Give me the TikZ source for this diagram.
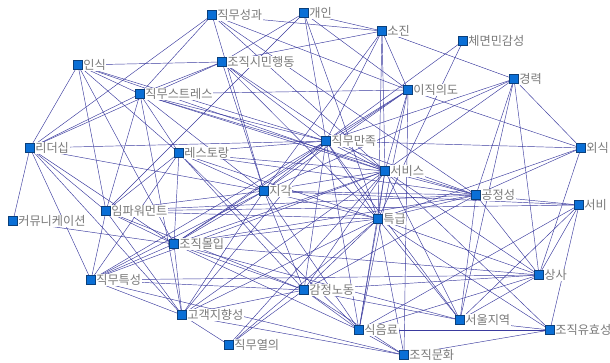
\documentclass[tikz,border=0pt]{standalone}
\usepackage{fontspec}
\newfontfamily\korfont{Noto Sans CJK KR}
\usetikzlibrary{backgrounds}
\definecolor{linkblue}{HTML}{3A3A9E}
\definecolor{nodeblue}{HTML}{0A6FD6}
\definecolor{nodeedge}{HTML}{0B3F7A}
\definecolor{labelgray}{HTML}{7A7A7A}
\tikzset{
    kwnode/.style={draw=nodeedge,fill=nodeblue,line width=0.5pt,
      minimum size=9pt,inner sep=0pt,outer sep=0pt,label distance=0pt},
    kwlabel/.style={fill=white,text=labelgray,inner sep=0.6pt,
      font=\korfont\fontsize{12.2}{13}\selectfont},
    linkline/.style={draw=linkblue,line width=0.45pt}
}

\begin{document}
\begin{tikzpicture}[x=1pt,y=-1pt]
  \useasboundingbox (0,0) rectangle (610,363);
  % keywords
  \foreach \id/\x/\y/\txt in {jms/212/15/직무성과, gi/304/13/개인, sj/382/31/소진,
    cm/463/41/체면민감성, is/78/65/인식, jsh/222/62/조직시민행동, jst/140/94/직무스트레스,
    ij/408/90/이직의도, gr/514/79/경력, ld/30/148/리더십, rs/179/153/레스토랑,
    jmj/326/141/직무만족, os/581/148/외식, sv/385/171/서비스, jg/264/191/지각,
    gj/476/195/공정성, sv2/579/205/서비, ip/106/211/임파워먼트, cu/13/221/커뮤니케이션,
    tg/378/219/특급, jmi/174/244/조직몰입, ss/539/275/상사, jts/91/280/직무특성,
    gn/304/290/감정노동, gg/182/315/고객지향성, sw/460/320/서울지역, sy/359/330/식음료,
    jy/550/330/조직유효성, jy2/229/345/직무열의, jmh/404/355/조직문화}{
    \node[kwnode,label={[kwlabel]right:\txt}] (\id) at (\x,\y) {};
  }
  % links
  \begin{scope}[on background layer]
  \foreach \a/\b in {jms/ld, jms/jst, jms/jg, jms/sj, jms/sv, jms/gj, jms/ij,
    gi/sj, gi/jsh, gi/ip, gi/jmj, gi/tg, gi/ij,
    sj/gr, sj/sv, sj/tg, sj/jmj, sj/jg, sj/ij, jsh/sj,
    cm/jmj, cm/tg,
    gr/jmj, gr/jg, gr/gj, gr/ss, gr/os, gr/sw, gr/sv, ij/os,
    is/jsh, is/jst, is/jmj, is/sv, is/ld, is/ip, is/rs, is/jmi,
    jsh/jst, jsh/ld, jsh/jg, jsh/sv, jsh/jmj, jsh/tg,
    jst/ij, jst/ld, jst/ip, jst/gg, jst/rs, jst/sv, jst/jmj, jst/gj, jst/jg,
    ij/jmj, ij/jg, ij/jmi, ij/sv, ij/jmh, ij/sy,
    ld/cu, ld/jmj, ld/jg, ld/ip, ld/jmi, ld/jts, ld/gg, cu/jmi,
    rs/jmi, rs/ip, rs/jts, rs/gj, rs/jmj, rs/tg, rs/gn, rs/sy, rs/jg, rs/sv,
    os/jmj, os/gj, os/tg, os/ss,
    sv2/jy, sv2/gj, sv2/ip, sv2/ss, sv2/sw, sv2/sy, sv2/jg,
    gj/jmj, gj/sv, gj/tg, gj/jg, gj/ss, gj/sw, gj/jmi, gj/ip, gj/gn,
    ss/tg, ss/sv, ss/gn, ss/sw, ss/jmi, ss/jts, ss/sy,
    sw/jy, sw/tg, sw/sv, sw/gn, sw/jmi, sw/jmj,
    jy/jmh, jy/sy, jy/tg, jy/sv,
    jmh/sy, jmh/gn, jmh/tg, jmh/gg, jmh/jts,
    sy/gn, sy/tg, sy/sv, sy/jmj, sy/jmi, sy/jg,
    gn/tg, gn/sv, gn/jmj, gn/jg, gn/jmi, gn/ip, gn/jts, gn/gg,
    jy2/gg, jy2/gn, jy2/tg, jy2/sv,
    gg/jmi, gg/jts, gg/jg, gg/jmj, gg/sv, gg/tg, gg/ip,
    jts/ip, jts/jmi, jts/jg, jts/jmj, jts/sv,
    ip/jmi, ip/jg, ip/tg,
    jmi/jg, jmi/jmj, jmi/sv, jmi/tg,
    jg/jmj, jg/sv, jg/tg, jmj/sv, jmj/tg, sv/tg}{
    \draw[linkline] (\a) -- (\b);
  }
  \end{scope}
\end{tikzpicture}
\end{document}
